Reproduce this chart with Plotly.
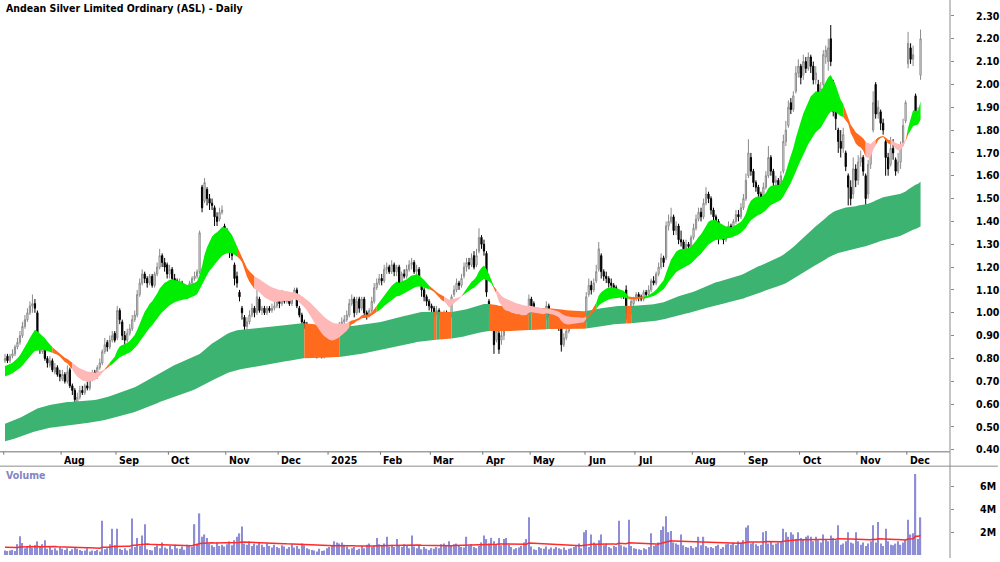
import numpy as np
import pandas as pd
import plotly.graph_objects as go

# ---------------- data ----------------
title_text = "Andean Silver Limited Ordinary (ASL) - Daily"
start_date = "2024-07-01"
end_date = "2025-12-08"
holidays = ["2024-12-25", "2024-12-26", "2025-01-01", "2025-01-27",
            "2025-04-18", "2025-04-21", "2025-04-25", "2025-06-09"]

opens = [
    .79,.81,.79,.81,.82,.85,.87,.90,.94,.97,
    1.00,1.03,1.04,1.00,.88,.83,.85,.80,.77,.79,
    .74,.76,.73,.71,.73,.70,.75,.68,.66,.60,
    .63,.66,.65,.68,.67,.71,.74,.72,.76,.78,
    .83,.87,.85,.88,.91,.89,1.01,.96,.90,.88,
    .91,.93,.97,.99,1.08,1.13,1.17,1.15,1.13,1.16,
    1.12,1.17,1.20,1.25,1.22,1.21,1.17,1.19,1.15,1.14,
    1.12,1.13,1.09,1.10,1.08,1.13,1.15,1.16,1.18,1.55,
    1.49,1.54,1.50,1.48,1.46,1.42,1.41,1.44,1.38,1.36,
    1.34,1.27,1.21,1.16,1.09,1.02,.98,.94,.96,.99,
    1.02,1.00,1.06,1.01,1.02,1.00,1.02,1.01,1.02,1.03,
    1.05,1.04,1.08,1.05,1.06,1.04,1.07,1.10,1.02,.99,
    .96,.95,.92,.89,.85,.84,.82,.83,.81,.82,
    .84,.83,.86,.89,.92,.94,.96,.97,.99,1.04,
    1.06,1.00,1.06,1.02,1.06,1.00,.99,1.01,1.05,1.11,
    1.13,1.15,1.14,1.19,1.20,1.18,1.21,1.18,1.20,1.12,
    1.17,1.16,1.19,1.21,1.22,1.18,1.19,1.12,1.10,1.07,
    1.05,1.03,1.02,1.00,1.01,.99,.98,1.00,.97,.99,
    1.08,1.10,1.13,1.12,1.16,1.20,1.22,1.21,1.25,1.21,
    1.27,1.33,1.30,1.26,1.05,1.02,.92,.88,.91,.88,
    .90,.94,.97,.99,.96,.98,.97,1.00,.95,.99,
    1.00,1.06,1.04,.98,.99,.97,1.00,.98,1.03,.99,
    .97,.97,.95,.94,.86,.89,.92,.94,.96,.98,
    .99,.95,.96,.97,1.08,1.12,1.10,1.14,1.19,1.25,
    1.18,1.16,1.15,1.13,1.12,1.11,1.09,1.07,1.08,1.10,
    1.00,1.00,1.04,1.06,1.08,1.07,1.06,1.09,1.08,1.10,
    1.14,1.13,1.17,1.20,1.24,1.24,1.38,1.40,1.42,1.36,
    1.38,1.32,1.31,1.28,1.30,1.29,1.33,1.37,1.41,1.44,
    1.42,1.48,1.52,1.50,1.45,1.42,1.40,1.33,1.35,1.32,
    1.36,1.38,1.35,1.40,1.43,1.42,1.46,1.50,1.60,1.68,
    1.62,1.57,1.55,1.52,1.50,1.55,1.60,1.68,1.62,1.57,
    1.58,1.55,1.62,1.75,1.82,1.92,1.89,1.97,2.05,2.08,
    2.04,2.10,2.07,2.12,2.08,2.02,2.00,1.95,2.00,2.12,
    2.10,2.20,2.01,1.88,1.80,1.75,1.72,1.70,1.60,1.55,
    1.52,1.63,1.58,1.66,1.68,1.60,1.52,1.65,1.80,2.00,
    1.87,1.88,1.83,1.75,1.68,1.65,1.72,1.67,1.62,1.66,
    1.74,1.84,2.09,2.16,2.11,1.95,1.87,2.04,
]
highs = [
    .82,.82,.82,.84,.86,.89,.92,.96,.99,1.02,
    1.05,1.08,1.06,1.01,.89,.88,.86,.81,.81,.80,
    .78,.77,.75,.75,.74,.77,.76,.69,.67,.65,
    .68,.68,.69,.70,.72,.75,.75,.77,.80,.84,
    .89,.88,.90,.92,.92,1.03,1.02,.97,.92,.93,
    .95,.99,1.01,1.10,1.15,1.19,1.18,1.16,1.17,1.17,
    1.18,1.22,1.28,1.26,1.24,1.22,1.21,1.20,1.17,1.15,
    1.15,1.14,1.12,1.11,1.14,1.16,1.18,1.19,1.36,1.56,
    1.59,1.55,1.52,1.50,1.47,1.44,1.46,1.47,1.39,1.37,
    1.35,1.28,1.22,1.18,1.10,1.03,.99,.98,1.01,1.04,
    1.03,1.10,1.07,1.03,1.03,1.03,1.03,1.04,1.05,1.06,
    1.06,1.10,1.09,1.08,1.07,1.08,1.11,1.11,1.03,1.00,
    .97,.96,.93,.90,.87,.85,.85,.84,.84,.85,
    .85,.89,.90,.94,.96,.98,.99,1.01,1.06,1.08,
    1.07,1.07,1.07,1.07,1.07,1.01,1.02,1.07,1.13,1.15,
    1.17,1.17,1.21,1.22,1.21,1.23,1.22,1.21,1.21,1.18,
    1.19,1.21,1.23,1.24,1.23,1.21,1.20,1.13,1.11,1.08,
    1.06,1.04,1.03,1.03,1.02,1.00,1.01,1.01,.98,1.08,
    1.12,1.15,1.14,1.17,1.22,1.24,1.24,1.26,1.27,1.28,
    1.37,1.34,1.32,1.27,1.06,1.03,.93,.95,.92,.93,
    .93,.99,1.01,1.00,1.00,1.00,1.01,1.00,1.00,1.03,
    1.08,1.07,1.05,1.01,1.00,1.01,1.01,1.05,1.04,1.00,
    .99,.98,.96,.95,.91,.93,.95,.96,.99,1.00,
    1.00,.98,.99,1.09,1.15,1.14,1.15,1.21,1.31,1.26,
    1.19,1.18,1.16,1.15,1.13,1.12,1.10,1.09,1.09,1.12,
    1.02,1.06,1.07,1.09,1.09,1.08,1.10,1.10,1.12,1.15,
    1.16,1.18,1.22,1.26,1.25,1.40,1.43,1.46,1.43,1.40,
    1.39,1.36,1.32,1.32,1.31,1.34,1.39,1.43,1.46,1.46,
    1.50,1.55,1.53,1.51,1.46,1.43,1.41,1.37,1.36,1.37,
    1.40,1.39,1.41,1.45,1.45,1.48,1.52,1.61,1.76,1.70,
    1.63,1.58,1.56,1.53,1.57,1.62,1.73,1.69,1.63,1.60,
    1.59,1.62,1.78,1.84,1.93,1.94,1.97,2.08,2.11,2.09,
    2.13,2.12,2.14,2.13,2.10,2.08,2.02,2.01,2.15,2.17,
    2.20,2.26,2.02,1.92,1.81,1.80,1.81,1.71,1.61,1.58,
    1.68,1.65,1.69,1.71,1.69,1.61,1.67,1.73,1.97,2.01,
    1.93,1.89,1.85,1.76,1.70,1.77,1.76,1.68,1.70,1.75,
    1.85,1.93,2.23,2.18,2.17,1.96,1.90,2.24,
]
lows = [
    .78,.78,.78,.80,.81,.84,.86,.89,.93,.96,
    .99,1.00,1.00,.87,.82,.82,.79,.76,.76,.74,
    .73,.72,.70,.70,.69,.69,.67,.64,.57,.59,
    .62,.64,.64,.66,.66,.70,.71,.71,.75,.77,
    .82,.83,.84,.87,.87,.88,.95,.88,.86,.87,
    .90,.92,.96,.98,1.07,1.12,1.13,1.11,1.12,1.11,
    1.11,1.16,1.19,1.20,1.18,1.15,1.15,1.13,1.12,1.10,
    1.11,1.07,1.07,1.06,1.07,1.12,1.14,1.15,1.17,1.44,
    1.48,1.47,1.45,1.45,1.38,1.38,1.40,1.43,1.34,1.31,
    1.24,1.23,1.12,1.11,1.05,.97,.91,.92,.95,.98,
    .98,.99,1.00,.99,.99,.99,1.00,1.00,1.01,1.02,
    1.02,1.03,1.04,1.04,1.03,1.03,1.06,1.02,.98,.95,
    .93,.92,.87,.83,.82,.80,.81,.80,.80,.81,
    .82,.83,.85,.88,.91,.93,.95,.96,.98,1.03,
    .98,.99,1.00,1.01,.99,.97,.98,1.00,1.04,1.10,
    1.12,1.12,1.13,1.17,1.17,1.17,1.16,1.16,1.08,1.11,
    1.15,1.15,1.18,1.19,1.17,1.16,1.12,1.07,1.05,1.03,
    1.01,1.00,.98,.99,.97,.97,.97,.96,.90,.98,
    1.07,1.09,1.10,1.11,1.15,1.18,1.19,1.20,1.19,1.20,
    1.26,1.28,1.25,1.07,1.00,.95,.82,.87,.82,.86,
    .88,.93,.96,.94,.95,.95,.96,.93,.94,.98,
    .99,1.00,.97,.96,.95,.96,.96,.97,.98,.96,
    .95,.94,.92,.83,.85,.88,.91,.93,.95,.96,
    .94,.94,.95,.96,1.07,1.08,1.09,1.13,1.18,1.15,
    1.14,1.13,1.11,1.10,1.09,1.07,1.07,1.06,1.06,.97,
    .97,.99,1.03,1.05,1.05,1.05,1.05,1.07,1.07,1.09,
    1.12,1.12,1.16,1.19,1.20,1.23,1.36,1.39,1.34,1.34,
    1.30,1.29,1.26,1.27,1.27,1.28,1.32,1.36,1.40,1.40,
    1.41,1.47,1.48,1.43,1.40,1.38,1.30,1.32,1.30,1.31,
    1.35,1.34,1.34,1.39,1.40,1.41,1.45,1.49,1.59,1.60,
    1.55,1.53,1.50,1.47,1.49,1.54,1.59,1.60,1.55,1.55,
    1.54,1.54,1.61,1.73,1.81,1.87,1.88,1.96,2.03,2.00,
    2.02,2.05,2.06,2.05,2.00,2.00,1.90,1.92,1.99,2.09,
    2.06,2.08,1.86,1.80,1.70,1.68,1.70,1.62,1.47,1.47,
    1.50,1.55,1.56,1.64,1.60,1.47,1.50,1.63,1.79,1.85,
    1.85,1.80,1.78,1.60,1.60,1.64,1.67,1.60,1.61,1.63,
    1.73,1.83,2.07,2.09,2.08,1.85,1.85,2.02,
]
closes = [
    .80,.79,.81,.82,.85,.87,.90,.94,.97,1.00,
    1.03,1.04,1.02,.88,.84,.86,.80,.78,.79,.75,
    .76,.73,.72,.73,.70,.74,.68,.66,.62,.63,
    .66,.65,.68,.67,.71,.73,.72,.76,.78,.83,
    .86,.85,.88,.90,.88,1.01,.97,.90,.88,.91,
    .93,.97,.99,1.08,1.13,1.17,1.15,1.13,1.16,1.12,
    1.17,1.20,1.25,1.22,1.20,1.17,1.19,1.15,1.14,1.12,
    1.13,1.09,1.10,1.08,1.13,1.15,1.16,1.18,1.35,1.46,
    1.57,1.50,1.48,1.47,1.42,1.40,1.44,1.45,1.36,1.33,
    1.27,1.25,1.15,1.13,1.07,1.00,.94,.96,.99,1.02,
    1.00,1.07,1.01,1.02,1.00,1.02,1.01,1.02,1.03,1.05,
    1.04,1.08,1.05,1.06,1.04,1.07,1.10,1.03,.99,.96,
    .95,.93,.89,.85,.84,.82,.83,.81,.82,.84,
    .83,.86,.89,.92,.94,.96,.97,.99,1.04,1.06,
    1.00,1.05,1.02,1.06,1.00,.99,1.01,1.05,1.11,1.13,
    1.15,1.14,1.19,1.20,1.18,1.21,1.18,1.20,1.10,1.17,
    1.16,1.19,1.21,1.22,1.18,1.19,1.13,1.10,1.07,1.05,
    1.03,1.02,1.00,1.01,.99,.98,1.00,.97,.92,1.07,
    1.10,1.13,1.12,1.15,1.20,1.22,1.21,1.24,1.20,1.25,
    1.33,1.30,1.27,1.09,1.03,.98,.86,.92,.84,.90,
    .92,.97,.99,.96,.98,.97,1.00,.95,.99,1.00,
    1.06,1.02,.98,.99,.97,1.00,.98,1.03,.99,.97,
    .98,.95,.94,.86,.89,.92,.94,.95,.98,.97,
    .95,.97,.97,1.07,1.12,1.10,1.13,1.18,1.28,1.18,
    1.16,1.15,1.13,1.12,1.11,1.09,1.08,1.08,1.07,1.00,
    .99,1.05,1.06,1.08,1.07,1.06,1.09,1.08,1.10,1.14,
    1.13,1.17,1.20,1.24,1.22,1.38,1.40,1.42,1.36,1.38,
    1.32,1.31,1.28,1.30,1.29,1.33,1.37,1.41,1.44,1.42,
    1.48,1.52,1.50,1.45,1.42,1.40,1.33,1.35,1.32,1.36,
    1.38,1.35,1.40,1.43,1.42,1.46,1.50,1.58,1.70,1.62,
    1.57,1.55,1.52,1.50,1.55,1.60,1.68,1.62,1.57,1.58,
    1.55,1.60,1.75,1.80,1.90,1.89,1.95,2.05,2.08,2.03,
    2.10,2.07,2.12,2.08,2.02,2.05,1.95,1.98,2.13,2.15,
    2.16,2.10,1.88,1.85,1.75,1.72,1.78,1.64,1.55,1.50,
    1.63,1.58,1.66,1.68,1.62,1.50,1.65,1.70,1.92,1.87,
    1.90,1.83,1.80,1.68,1.63,1.72,1.70,1.62,1.66,1.73,
    1.82,1.92,2.18,2.11,2.13,1.87,1.88,2.20,
]
volumes_m = [
    0.40,0.35,0.40,0.45,0.35,0.95,1.65,1.05,0.60,0.75,
    0.90,0.65,0.85,1.20,0.70,0.95,1.30,0.55,0.75,0.45,
    0.60,0.40,0.70,0.55,0.45,0.60,0.35,0.50,0.70,0.55,
    0.45,0.35,0.40,0.60,0.30,0.40,0.35,0.45,0.30,3.00,
    0.50,0.60,0.95,2.30,0.85,2.30,0.55,0.45,0.60,0.40,
    0.55,3.20,0.70,1.50,0.80,1.70,2.70,0.50,0.45,0.40,
    0.70,0.85,0.60,1.10,0.65,0.55,0.80,0.50,0.90,0.60,
    0.55,0.75,0.45,0.90,0.85,0.70,2.70,1.00,3.65,1.60,
    1.80,1.50,1.00,0.85,0.70,1.10,0.80,0.90,0.75,0.95,
    1.20,0.85,1.30,1.60,1.90,2.50,1.00,0.90,1.20,0.80,
    1.00,0.85,1.10,0.90,0.70,1.00,0.80,0.65,0.90,0.70,
    0.60,0.85,0.75,0.55,0.70,0.95,0.65,0.80,0.55,1.00,
    0.85,0.60,0.50,0.45,0.40,0.30,0.55,0.35,0.40,0.60,
    0.70,0.80,1.20,1.10,1.00,1.10,0.90,0.75,0.50,0.60,
    0.70,0.45,0.55,0.80,0.60,0.90,1.00,0.70,0.85,1.50,
    0.95,0.80,1.00,1.60,0.75,0.90,0.70,1.40,0.85,0.70,
    0.95,0.80,0.60,1.70,0.75,0.60,0.85,0.50,0.70,0.55,
    0.45,0.60,0.55,0.70,0.60,0.95,1.00,0.80,1.20,0.85,
    0.95,1.00,0.85,0.70,0.65,1.60,0.80,0.95,0.70,0.60,
    0.80,1.10,1.70,1.40,1.00,1.50,1.20,0.90,1.50,0.85,
    1.40,1.50,0.90,0.70,0.50,0.60,0.65,0.80,1.10,1.40,
    3.30,0.75,0.50,0.45,0.70,0.60,0.55,0.75,0.50,0.65,
    0.55,0.70,0.60,0.50,0.65,0.45,0.55,0.60,0.70,0.80,
    1.00,0.60,2.00,2.20,0.70,1.80,1.10,0.95,1.30,1.80,
    0.85,1.00,0.70,0.60,0.80,0.70,3.00,0.85,0.75,0.65,
    3.10,0.80,0.60,0.55,0.50,0.45,0.60,0.50,0.70,1.90,
    0.80,0.90,1.10,2.20,2.50,3.40,2.00,2.10,1.10,1.00,
    0.90,1.80,0.85,0.70,0.65,0.80,0.60,0.70,1.60,0.85,
    1.60,0.80,0.65,0.70,0.60,0.80,0.90,0.55,0.70,0.95,
    1.00,0.90,1.10,0.85,1.20,1.10,1.30,2.40,2.60,1.00,
    1.10,0.95,0.80,0.90,2.00,2.10,1.00,1.20,0.90,1.00,
    1.10,1.20,2.30,2.00,1.60,2.00,1.80,1.40,2.00,1.50,
    1.40,1.60,1.70,1.60,1.20,1.60,1.30,1.10,1.80,1.40,
    1.20,1.70,1.50,1.30,2.60,0.90,1.00,1.20,2.00,1.10,
    1.00,2.00,1.20,0.90,1.10,0.80,1.00,1.20,2.60,1.10,
    2.90,1.00,0.80,2.30,1.20,0.90,0.85,1.00,1.20,0.90,
    1.10,1.30,3.10,1.80,1.90,7.10,1.40,3.30,
]

short_periods = [14, 17, 20, 24, 28, 33]
short_seeds = [0.762, 0.754, 0.746, 0.736, 0.726, 0.716]
long_periods = [145, 260]
long_seeds = [0.51, 0.435]
vol_ma_period = 50
vol_ma_seed = 0.70

price_ticks = [0.40, 0.50, 0.60, 0.70, 0.80, 0.90, 1.00, 1.10, 1.20, 1.30,
               1.40, 1.50, 1.60, 1.70, 1.80, 1.90, 2.00, 2.10, 2.20, 2.30]
vol_ticks = [2, 4, 6]
vol_tick_labels = ["2M", "4M", "6M"]
month_starts = ["2024-07-01", "2024-08-01", "2024-09-01", "2024-10-01", "2024-11-01",
                "2024-12-01", "2025-01-01", "2025-02-01", "2025-03-01", "2025-04-01",
                "2025-05-01", "2025-06-01", "2025-07-01", "2025-08-01", "2025-09-01",
                "2025-10-01", "2025-11-01", "2025-12-01"]
month_labels = ["", "Aug", "Sep", "Oct", "Nov", "Dec", "2025", "Feb", "Mar", "Apr",
                "May", "Jun", "Jul", "Aug", "Sep", "Oct", "Nov", "Dec"]

# ---------------- derived ----------------
dates = pd.bdate_range(start_date, end_date)
dates = dates[~dates.isin(pd.to_datetime(holidays))]
n = len(closes)
assert len(opens) == len(highs) == len(lows) == n == len(volumes_m), (
    len(opens), len(highs), len(lows), n, len(volumes_m))
assert len(dates) == n, (len(dates), n)
xs = np.arange(n)


def ema(vals, period, seed):
    a = 2.0 / (period + 1)
    out, e = [], seed
    for v in vals:
        e = e + a * (v - e)
        out.append(e)
    return np.array(out)


c = np.array(closes)
S = np.array([ema(c, p, s) for p, s in zip(short_periods, short_seeds)])
L = np.array([ema(c, p, s) for p, s in zip(long_periods, long_seeds)])
vol_ma = ema(volumes_m, vol_ma_period, vol_ma_seed)

GREEN = "#00EE00"
ORANGE = "#FF6A1C"
PINK = "#FFB8B8"
DKGREEN = "#3CB371"

s_up, s_lo = S.max(axis=0), S.min(axis=0)
l_up, l_lo = L.max(axis=0), L.min(axis=0)

dS = np.diff(S, axis=0)          # slower minus faster
s_col = []
for i in range(n):
    if np.all(dS[:, i] < 0):
        s_col.append(GREEN)      # all averages in rising order
    elif np.all(dS[:, i] > 0):
        s_col.append(PINK)       # all averages in falling order
    else:
        s_col.append(ORANGE)     # averages crossing

l_col = [ORANGE if c[i] < l_up[i] else DKGREEN for i in range(n)]


def band_traces(upper, lower, colors):
    traces = []
    i = 0
    while i < n:
        j = i
        while j + 1 < n and colors[j + 1] == colors[i]:
            j += 1
        a = i
        b = min(j + 1, n - 1)
        idx = list(range(a, b + 1))
        if len(idx) == 1:
            idx = [max(a - 1, 0), a]
        px = idx + idx[::-1]
        py_ = [upper[k] for k in idx] + [lower[k] for k in idx[::-1]]
        traces.append(go.Scatter(x=px, y=py_, fill="toself", fillcolor=colors[i],
                                 mode="lines", line=dict(width=0, color=colors[i]),
                                 hoverinfo="skip", showlegend=False, xaxis="x", yaxis="y"))
        i = j + 1
    return traces


fig = go.Figure()
for t in band_traces(l_up, l_lo, l_col):
    fig.add_trace(t)
for t in band_traces(s_up, s_lo, s_col):
    fig.add_trace(t)

fig.add_trace(go.Candlestick(
    x=xs, open=opens, high=highs, low=lows, close=closes,
    increasing=dict(line=dict(color="#8a8a8a", width=1), fillcolor="#ffffff"),
    decreasing=dict(line=dict(color="#000000", width=1), fillcolor="#000000"),
    whiskerwidth=0, showlegend=False, xaxis="x", yaxis="y", hoverinfo="skip"))

fig.add_trace(go.Bar(x=xs, y=volumes_m, marker=dict(color="#8E8ED6", line=dict(width=0)),
                     width=0.5, showlegend=False, xaxis="x", yaxis="y2", hoverinfo="skip"))
fig.add_trace(go.Scatter(x=xs, y=vol_ma, mode="lines", line=dict(color="#FF2A2A", width=1.5),
                         showlegend=False, xaxis="x", yaxis="y2", hoverinfo="skip"))

# ---------------- layout ----------------
W, H = 1000, 562
PLOT_R = 952
FONT = "Liberation Sans Narrow, Arial Narrow, DejaVu Sans Condensed, sans-serif"
y_price_bottom = 455
y_strip_bottom = 469.5
y_vol_zero = 559


def py(pix):
    return (H - pix) / H


price_lo = 2.30 - (y_price_bottom - 16) / 230.0
price_hi = 2.30 + 16 / 230.0
vol_per_px = 2.0 / 23.0
vol_top = (y_vol_zero - y_strip_bottom) * vol_per_px
vol_bottom = -(H - y_vol_zero) * vol_per_px

px_per_day = 2.5
x_lo = -5 / px_per_day
x_hi = x_lo + PLOT_R / px_per_day

fig.update_layout(
    width=W, height=H, margin=dict(l=0, r=W - PLOT_R, t=0, b=0),
    paper_bgcolor="white", plot_bgcolor="white", showlegend=False, hovermode=False,
    xaxis=dict(domain=[0, 1], range=[x_lo, x_hi], showticklabels=False, showgrid=False,
               zeroline=False, showline=False, ticks="", rangeslider=dict(visible=False),
               fixedrange=True),
    yaxis=dict(domain=[py(y_price_bottom), 1], range=[price_lo, price_hi], side="right",
               anchor="x", tickvals=price_ticks, ticktext=[f"{v:.2f}" for v in price_ticks],
               ticks="outside", ticklen=3, tickcolor="#888888", showgrid=False, zeroline=False,
               showline=False, ticklabelstandoff=20,
               tickfont=dict(family=FONT, size=10.5, color="black", weight="bold")),
    yaxis2=dict(domain=[0, py(y_strip_bottom)], range=[vol_bottom, vol_top], side="right",
                anchor="x", tickvals=vol_ticks, ticktext=vol_tick_labels,
                ticks="outside", ticklen=3, tickcolor="#888888", showgrid=False, zeroline=False,
                showline=False, ticklabelstandoff=24,
                tickfont=dict(family=FONT, size=10.5, color="black", weight="bold")),
)

shapes = [
    dict(type="line", xref="paper", yref="paper", x0=1, x1=1, y0=0, y1=1,
         line=dict(color="#8c8c8c", width=1)),
    dict(type="line", xref="paper", yref="paper", x0=0, x1=1, y0=py(y_price_bottom),
         y1=py(y_price_bottom), line=dict(color="#a0a0a0", width=1.5)),
    dict(type="line", xref="paper", yref="paper", x0=0, x1=W / PLOT_R, y0=py(y_strip_bottom),
         y1=py(y_strip_bottom), line=dict(color="#8c8c8c", width=1)),
]
annotations = [
    dict(text=f"<b>{title_text}</b>", xref="paper", yref="paper", x=4 / PLOT_R, y=py(8),
         xanchor="left", yanchor="middle", showarrow=False,
         font=dict(family=FONT, size=10.5, color="black")),
    dict(text="<b>Volume</b>", xref="paper", yref="paper", x=4 / PLOT_R, y=py(478),
         xanchor="left", yanchor="middle", showarrow=False,
         font=dict(family=FONT, size=10.5, color="#8484C4")),
]
for ms, lab in zip(month_starts, month_labels):
    k = int(dates.searchsorted(pd.Timestamp(ms)))
    shapes.append(dict(type="line", xref="x", yref="paper", x0=k - 0.5, x1=k - 0.5,
                       y0=py(y_price_bottom), y1=py(y_price_bottom + 3),
                       line=dict(color="#777777", width=1)))
    if lab:
        annotations.append(dict(text=f"<b>{lab}</b>", xref="x", yref="paper", x=k - 0.5,
                                y=py(463), xanchor="left", yanchor="middle", xshift=1,
                                showarrow=False, font=dict(family=FONT, size=10.5, color="black")))

fig.update_layout(shapes=shapes, annotations=annotations)
fig.write_html("out.html")
